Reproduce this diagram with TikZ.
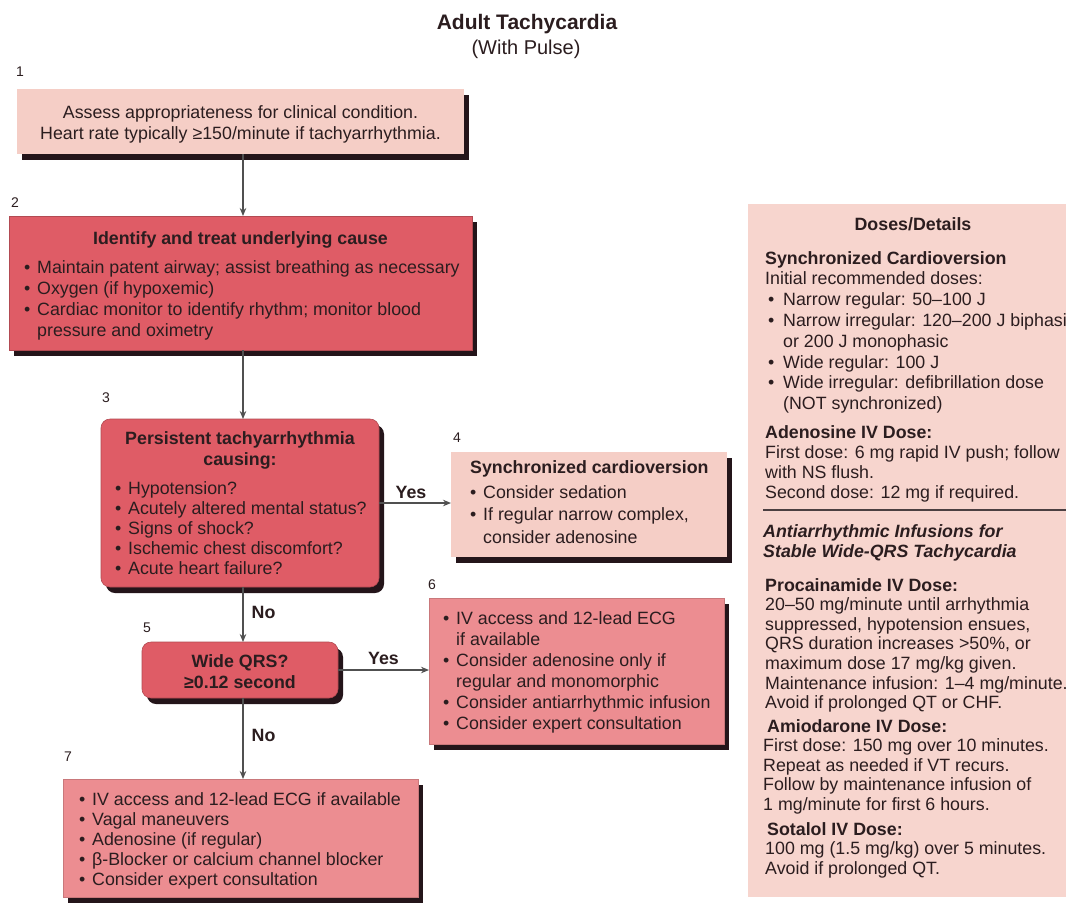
\documentclass[tikz,border=0pt]{standalone}
\usepackage{fontspec}
\setmainfont{Liberation Sans}
\usetikzlibrary{arrows.meta,shadows}

\definecolor{ink}{HTML}{2B1D1F}
\definecolor{paleRose}{HTML}{F5CEC6}
\definecolor{deepRose}{HTML}{DF5C66}
\definecolor{midRose}{HTML}{EC8D91}
\definecolor{panelRose}{HTML}{F7D5CE}
\definecolor{shade}{HTML}{24151A}
\definecolor{wire}{HTML}{505050}

% text sizes (1pt = 1px of the final image)
\newcommand{\boxtxt}{\fontsize{17.8}{21}\selectfont}
% bullet and continuation indents
\newcommand{\bul}{\makebox[13pt][l]{•}}
\newcommand{\cnt}{\hspace*{13pt}}
\newcommand{\pbul}{\makebox[18pt][l]{\hspace{3pt}•}}
\newcommand{\pcnt}{\hspace*{18pt}}

\tikzset{
  card/.style={inner sep=0pt, outer sep=0pt,
    drop shadow={shadow xshift=5pt, shadow yshift=-6pt, fill=shade, opacity=1}},
  pale/.style={card, fill=paleRose},
  deep/.style={card, fill=deepRose, draw=deepRose!80!black, line width=0.6pt},
  mid/.style={card, fill=midRose, draw=midRose!85!black, line width=0.5pt},
  txt/.style={anchor=base west, inner sep=0pt, text=ink},
  ctxt/.style={anchor=base, inner sep=0pt, text=ink},
  num/.style={inner sep=0pt, text=ink, font=\fontsize{14}{16}\selectfont},
  lbl/.style={inner sep=0pt, text=ink, font=\bfseries\fontsize{17.8}{21}\selectfont},
  flow/.style={draw=wire, line width=1.3pt, -{Stealth[length=8pt,width=6.5pt]}},
}

\begin{document}
\begin{tikzpicture}[x=1pt,y=-1pt]
\path[use as bounding box] (0,0) rectangle (1066,903);
\clip (0,0) rectangle (1066,903);
\fill[white] (0,0) rectangle (1066,903);

% ---- heading
\node[ctxt, font=\bfseries\fontsize{21}{24}\selectfont] (title) at (527,29.5) {Adult Tachycardia};
\node[ctxt, font=\fontsize{20}{24}\selectfont] (subtitle) at (526,54) {(With Pulse)};

% ---- boxes of the algorithm
\node[pale, minimum width=447pt, minimum height=65pt] (b1) at (240.5,121.5) {};
\node[deep, minimum width=463pt, minimum height=134pt] (b2) at (240.5,283) {};
\node[deep, rounded corners=9pt, minimum width=278pt, minimum height=168pt] (b3) at (240,503) {};
\node[pale, minimum width=276pt, minimum height=105pt] (b4) at (589,504) {};
\node[deep, rounded corners=9pt, minimum width=196pt, minimum height=56pt] (b5) at (240,670) {};
\node[mid, minimum width=295pt, minimum height=146pt] (b6) at (576.5,671) {};
\node[mid, minimum width=355pt, minimum height=118pt] (b7) at (240.5,838) {};

% ---- doses panel
\node[fill=panelRose, inner sep=0pt, minimum width=332pt, minimum height=693pt] (doses) at (914,550.5) {};

% ---- step numbers
\node[num] (n1) at (20,72) {1};
\node[num] (n2) at (15,203) {2};
\node[num] (n3) at (106,398) {3};
\node[num] (n4) at (457,438) {4};
\node[num] (n5) at (147,628) {5};
\node[num] (n6) at (432,585) {6};
\node[num] (n7) at (68,757) {7};

% ---- connectors
\coordinate (spine) at (243,0);
\draw[flow] (b1.south -| spine) -- (b2.north -| spine);
\draw[flow] (b2.south -| spine) -- (b3.north -| spine);
\draw[flow] (b3.south -| spine) -- node[lbl, midway, anchor=west, xshift=8pt, yshift=2pt] (no1) {No} (b5.north -| spine);
\draw[flow] (b5.south -| spine) -- node[lbl, midway, anchor=west, xshift=8pt, yshift=3pt] (no2) {No} (b7.north -| spine);
\draw[flow] (b3.east) -- node[lbl, midway, above=4pt, xshift=-4pt] (yes1) {Yes} (b3.east -| b4.west);
\draw[flow] (b5.east) -- node[lbl, midway, above=5pt] (yes2) {Yes} (b5.east -| b6.west);

% ---- box texts
\node[ctxt] (t1) at (240.5,118) {\parbox[t]{440pt}{\centering\boxtxt
  Assess appropriateness for clinical condition.\\
  Heart rate typically ≥150/minute if tachyarrhythmia.}};

\node[ctxt, font=\bfseries] (t2h) at (240.5,244) {\boxtxt Identify and treat underlying cause};
\node[txt] (t2) at (24,273) {\parbox[t]{445pt}{\raggedright\boxtxt
  \bul Maintain patent airway; assist breathing as necessary\\
  \bul Oxygen (if hypoxemic)\\
  \bul Cardiac monitor to identify rhythm; monitor blood\\
  \cnt pressure and oximetry}};

\node[ctxt] (t3h) at (240,444) {\parbox[t]{270pt}{\centering\bfseries\boxtxt
  Persistent tachyarrhythmia\\ causing:}};
\node[txt] (t3) at (115,494) {\parbox[t]{260pt}{\raggedright\fontsize{17.8}{20}\selectfont
  \bul Hypotension?\\
  \bul Acutely altered mental status?\\
  \bul Signs of shock?\\
  \bul Ischemic chest discomfort?\\
  \bul Acute heart failure?}};

\node[txt, font=\bfseries] (t4h) at (470,473) {\boxtxt Synchronized cardioversion};
\node[txt] (t4) at (470,498) {\parbox[t]{255pt}{\raggedright\fontsize{17.8}{22.5}\selectfont
  \bul Consider sedation\\
  \bul If regular narrow complex,\\
  \cnt consider adenosine}};

\node[ctxt] (t5) at (240,667) {\parbox[t]{190pt}{\centering\bfseries\boxtxt
  Wide QRS?\\ ≥0.12 second}};

\node[txt] (t6) at (443,624) {\parbox[t]{280pt}{\raggedright\boxtxt
  \bul IV access and 12-lead ECG\\
  \cnt if available\\
  \bul Consider adenosine only if\\
  \cnt regular and monomorphic\\
  \bul Consider antiarrhythmic infusion\\
  \bul Consider expert consultation}};

\node[txt] (t7) at (79,805) {\parbox[t]{340pt}{\raggedright\fontsize{17.8}{20}\selectfont
  \bul IV access and 12-lead ECG if available\\
  \bul Vagal maneuvers\\
  \bul Adenosine (if regular)\\
  \bul β-Blocker or calcium channel blocker\\
  \bul Consider expert consultation}};

% ---- doses panel texts
\node[ctxt, font=\bfseries] (dh) at (913,230) {\boxtxt Doses/Details};
\node[txt] (da) at (765,264) {\parbox[t]{400pt}{\raggedright\fontsize{17.8}{20.8}\selectfont
  \textbf{Synchronized Cardioversion}\\
  Initial recommended doses:\\
  \pbul Narrow regular: 50–100 J\\
  \pbul Narrow irregular: 120–200 J biphasic\\
  \pcnt or 200 J monophasic\\
  \pbul Wide regular: 100 J\\
  \pbul Wide irregular: defibrillation dose\\
  \pcnt (NOT synchronized)}};
\node[txt] (db) at (765,438) {\parbox[t]{400pt}{\raggedright\fontsize{17.8}{20}\selectfont
  \textbf{Adenosine IV Dose:}\\
  First dose: 6 mg rapid IV push; follow\\
  with NS flush.\\
  Second dose: 12 mg if required.}};
\coordinate (ruleL) at (763,510);
\coordinate (ruleR) at (1080,510);
\draw[draw=ink!85, line width=1.8pt] (ruleL) -- (ruleR);
\node[txt] (dc) at (763,537) {\parbox[t]{400pt}{\raggedright\fontsize{17.8}{20}\selectfont\bfseries\itshape
  Antiarrhythmic Infusions for\\
  Stable Wide-QRS Tachycardia}};
\node[txt] (dd) at (765,591) {\parbox[t]{400pt}{\raggedright\fontsize{17.8}{19.6}\selectfont
  \textbf{Procainamide IV Dose:}\\
  20–50 mg/minute until arrhythmia\\
  suppressed, hypotension ensues,\\
  QRS duration increases >50\%, or\\
  maximum dose 17 mg/kg given.\\
  Maintenance infusion: 1–4 mg/minute.\\
  Avoid if prolonged QT or CHF.}};
\node[txt] (de) at (763,732) {\parbox[t]{400pt}{\raggedright\fontsize{17.8}{19.6}\selectfont
  \hspace*{4pt}\textbf{Amiodarone IV Dose:}\\
  First dose: 150 mg over 10 minutes.\\
  Repeat as needed if VT recurs.\\
  Follow by maintenance infusion of\\
  1 mg/minute for first 6 hours.}};
\node[txt] (df) at (765,835) {\parbox[t]{400pt}{\raggedright\fontsize{17.8}{19.6}\selectfont
  \hspace*{2pt}\textbf{Sotalol IV Dose:}\\
  100 mg (1.5 mg/kg) over 5 minutes.\\
  Avoid if prolonged QT.}};
\end{tikzpicture}
\end{document}
